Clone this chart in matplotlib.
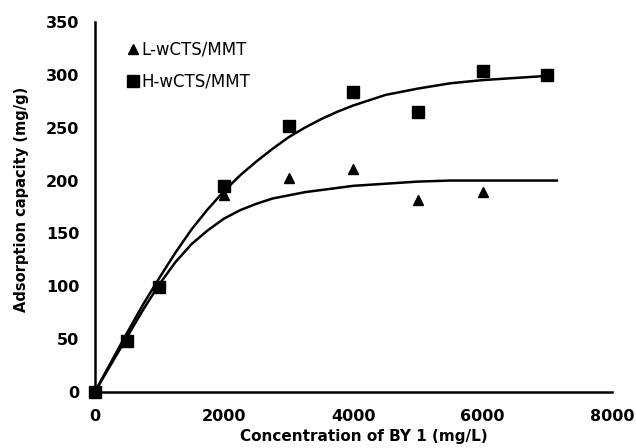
import numpy as np
import matplotlib.pyplot as plt

# Datos
conc = [0, 500, 1000, 2000, 3000, 4000, 5000, 6000, 7000]
q_H = [0, 48, 99, 195, 252, 284, 265, 304, 300]
conc_L = [0, 500, 1000, 2000, 3000, 4000, 5000, 6000]
q_L = [0, 50, 100, 186, 202, 211, 182, 189]

# Curvas de ajuste (leidas punto a punto del grafico)
fit_x_H = [0, 250, 500, 750, 1000, 1250, 1500, 1750, 2000, 2250, 2500, 2750, 3000, 3250,
           3500, 3750, 4000, 4500, 5000, 5500, 6000, 6500, 7000]
fit_H = [0, 28, 56, 83, 108, 132, 154, 173, 190, 205, 218, 230, 241, 250,
         258, 265, 271, 281, 287, 292, 295, 297, 299]
fit_x_L = [0, 250, 500, 750, 1000, 1250, 1500, 1750, 2000, 2250, 2500, 2750, 3000, 3250,
           3500, 3750, 4000, 4500, 5000, 5500, 6000, 6500, 7150]
fit_L = [0, 26, 52, 78, 102, 123, 140, 153, 164, 172, 178, 183, 186, 189,
         191, 193, 195, 197, 199, 200, 200, 200, 200]

fig = plt.figure(figsize=(6.36, 4.48), dpi=100)
ax = fig.add_axes([0.149, 0.125, 0.813, 0.826])

ax.plot(fit_x_H, fit_H, color='black', lw=1.8, solid_joinstyle='round')
ax.plot(fit_x_L, fit_L, color='black', lw=1.8, solid_joinstyle='round')
ax.plot(conc_L, q_L, '^', color='black', ms=7, label='L-wCTS/MMT', clip_on=False)
ax.plot(conc, q_H, 's', color='black', ms=8, label='H-wCTS/MMT', clip_on=False)

ax.set_xlim(0, 8000)
ax.set_ylim(0, 350)
ax.set_xticks([0, 2000, 4000, 6000, 8000])
ax.set_yticks(range(0, 351, 50))
ax.tick_params(length=0, labelsize=11.5)
ax.tick_params(axis='x', pad=12)
ax.tick_params(axis='y', pad=11)
for lab in ax.get_xticklabels() + ax.get_yticklabels():
    lab.set_fontweight('bold')
for s in ['top', 'right']:
    ax.spines[s].set_visible(False)
for s in ['left', 'bottom']:
    ax.spines[s].set_linewidth(1.8)

ax.set_xlabel('Concentration of BY 1 (mg/L)', fontsize=11, fontweight='bold')
ax.set_ylabel('Adsorption capacity (mg/g)', fontsize=10.5, fontweight='bold')
ax.xaxis.set_label_coords(0.52, -0.10)
ax.yaxis.set_label_coords(-0.128, 0.52)

ax.legend(loc='upper left', bbox_to_anchor=(0.053, 0.968), frameon=False, fontsize=12,
          handlelength=0.5, handletextpad=0.25, labelspacing=0.85, borderaxespad=0)

fig.savefig('out.png', dpi=100)
